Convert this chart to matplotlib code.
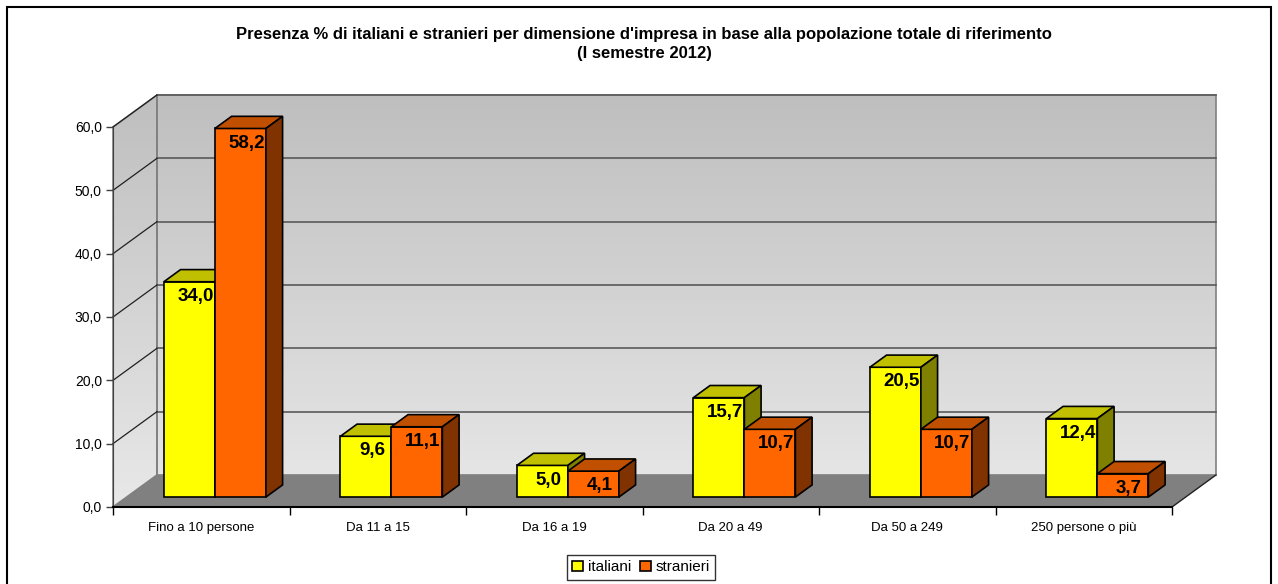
import matplotlib
matplotlib.use('Agg')
import matplotlib.pyplot as plt
from matplotlib.patches import Polygon, Rectangle
from matplotlib.ticker import FuncFormatter, FixedLocator
import numpy as np

plt.rcParams['font.family'] = ['Liberation Sans', 'DejaVu Sans']

# data
categories = ['Fino a 10 persone', 'Da 11 a 15', 'Da 16 a 19', 'Da 20 a 49',
              'Da 50 a 249', '250 persone o più']
italiani = [34.0, 9.6, 5.0, 15.7, 20.5, 12.4]
stranieri = [58.2, 11.1, 4.1, 10.7, 10.7, 3.7]
series_names = ['italiani', 'stranieri']
title = ("Presenza % di italiani e stranieri per dimensione d'impresa in base alla "
         "popolazione totale di riferimento\n(I semestre 2012)")

# look of the fake 3d
front_cols = ['#FFFF00', '#FF6600']
top_cols = ['#C0C000', '#C05000']
side_cols = ['#808000', '#803300']
W = 0.289          # bar width (category units)
DX, DY = 0.249, 5.05   # full depth of the floor in data units
f0, fd = 0.31, 0.38    # where the bars start and how deep they are
YMAX = 60
n = len(categories)

fig = plt.figure(figsize=(12.78, 5.84), dpi=100)
ax = fig.add_axes([113 / 1278, 77 / 584, 1059 / 1278, 380 / 584])
ax.set_xlim(0, n)
ax.set_ylim(0, YMAX)
ax.patch.set_visible(False)
for s in ['top', 'right']:
    ax.spines[s].set_visible(False)
ax.spines['bottom'].set_linewidth(1.5)
ax.spines['left'].set_color('#404040')
ax.spines['bottom'].set_zorder(5)

# walls with a vertical gradient
wall = Polygon([(0, 0), (DX, DY), (n + DX, DY), (n + DX, YMAX + DY), (DX, YMAX + DY), (0, YMAX)],
               closed=True, transform=ax.transData)
nstrip = 120
edges = np.linspace(0, YMAX + DY, nstrip + 1)
for k in range(nstrip):
    t = (edges[k] + edges[k + 1]) / 2 / (YMAX + DY)
    g = (232 - 42 * t) / 255
    r = Rectangle((0, edges[k]), n + DX, edges[k + 1] - edges[k] + 0.05,
                  facecolor=(g, g, g), edgecolor='none', zorder=0.5)
    ax.add_patch(r)
    r.set_clip_path(wall)
    r.set_clip_box(None)

# wall outlines and grid lines
ax.add_patch(Polygon([(DX, DY), (n + DX, DY), (n + DX, YMAX + DY), (DX, YMAX + DY)],
                     closed=True, fill=False, edgecolor='#808080', lw=1.2, clip_on=False, zorder=1))
ax.add_patch(Polygon([(0, 0), (DX, DY), (DX, YMAX + DY), (0, YMAX)],
                     closed=True, fill=False, edgecolor='#808080', lw=1.2, clip_on=False, zorder=1))
for v in range(10, YMAX + 1, 10):
    ax.plot([DX, n + DX], [v + DY, v + DY], color='#5a5a5a', lw=1.2, clip_on=False, zorder=1)
    ax.plot([0, DX], [v, v + DY], color='#202020', lw=0.9, clip_on=False, zorder=1)

# floor
ax.add_patch(Polygon([(0, 0), (n, 0), (n + DX, DY), (DX, DY)], closed=True,
                     facecolor='#808080', edgecolor='none', clip_on=False, zorder=1.5))
ax.plot([n, n + DX], [0, DY], color='#202020', lw=1.0, clip_on=False, zorder=1.6)

# bars
x = np.arange(n) + 0.5
for j, vals in enumerate([italiani, stranieri]):
    z = 3 + j
    x0 = x - W + j * W + f0 * DX
    y0 = f0 * DY
    bdx, bdy = fd * DX, fd * DY
    ax.bar(x0, vals, width=W, bottom=y0, align='edge', color=front_cols[j],
           edgecolor='black', lw=1.2, zorder=z, clip_on=False, label=series_names[j])
    for xi, v in zip(x0, vals):
        y1 = y0 + v
        ax.add_patch(Polygon([(xi, y1), (xi + W, y1), (xi + W + bdx, y1 + bdy), (xi + bdx, y1 + bdy)],
                             closed=True, facecolor=top_cols[j], edgecolor='black', lw=1.2,
                             clip_on=False, zorder=z))
        ax.add_patch(Polygon([(xi + W, y0), (xi + W + bdx, y0 + bdy), (xi + W + bdx, y1 + bdy), (xi + W, y1)],
                             closed=True, facecolor=side_cols[j], edgecolor='black', lw=1.2,
                             clip_on=False, zorder=z))
        ax.text(xi + W / 2 + 0.035, v - 0.75, f'{v:.1f}'.replace('.', ','),
                ha='center', va='center', fontsize=13.5, fontweight='bold', zorder=7)

# axes ticks
ax.set_yticks(range(0, YMAX + 1, 10))
ax.yaxis.set_major_formatter(FuncFormatter(lambda v, p: f'{v:.1f}'.replace('.', ',')))
ax.tick_params(axis='y', length=5, width=1, pad=3, labelsize=10, color='#404040')
ax.xaxis.set_major_locator(FixedLocator(range(n + 1)))
ax.xaxis.set_major_formatter(FuncFormatter(lambda v, p: ''))
ax.xaxis.set_minor_locator(FixedLocator(x))
ax.set_xticklabels(categories, minor=True)
ax.tick_params(axis='x', which='major', length=6, width=1, direction='out')
ax.tick_params(axis='x', which='minor', length=0, pad=11, labelsize=9.5)

# title, legend, border
fig.text(644 / 1278, 1 - 44 / 584, title, ha='center', va='center', fontsize=12,
         fontweight='bold', linespacing=1.35)
leg = ax.legend(loc='upper center', bbox_to_anchor=(641 / 1278, 1 - 555 / 584),
                bbox_transform=fig.transFigure, ncol=2, frameon=True, fancybox=False,
                edgecolor='black', fontsize=11, handlelength=0.7, handleheight=0.7,
                handletextpad=0.3, columnspacing=0.6, borderpad=0.35, borderaxespad=0)
leg.get_frame().set_linewidth(1.0)
fig.add_artist(Rectangle((7 / 1278, -0.05), 1264 / 1278, 1.05 - 7 / 584, transform=fig.transFigure,
                         fill=False, edgecolor='black', lw=1.5))

fig.savefig('out.png', dpi=100)
